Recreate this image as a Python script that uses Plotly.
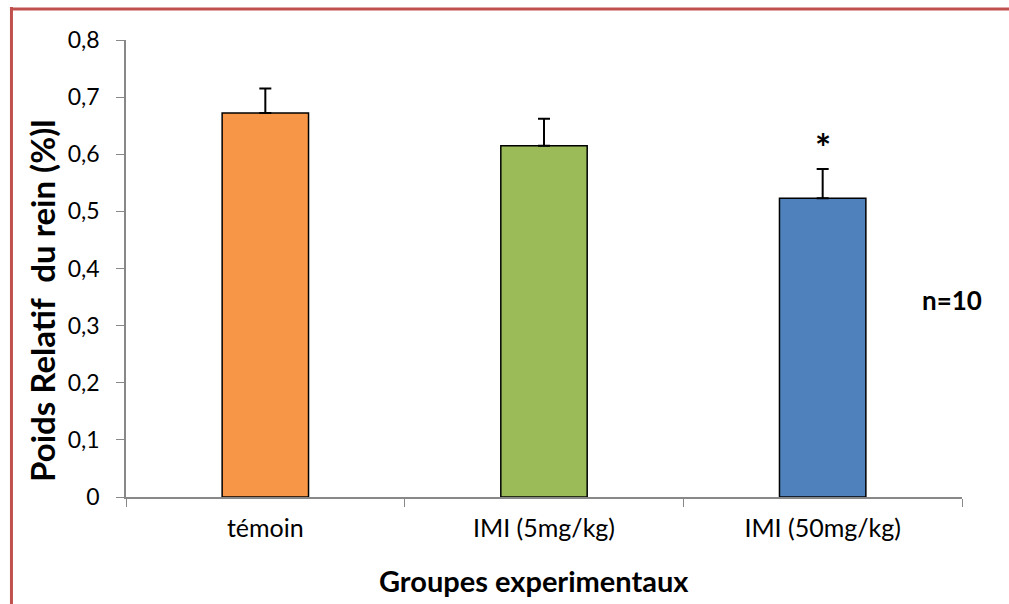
import plotly.graph_objects as go

categories = ["témoin", "IMI (5mg/kg)", "IMI (50mg/kg)"]
values = [0.672, 0.615, 0.523]
errors = [0.043, 0.047, 0.051]
colors = ["#F79646", "#9BBB59", "#4F81BD"]
y_ticks = [0, 0.1, 0.2, 0.3, 0.4, 0.5, 0.6, 0.7, 0.8]
y_tick_labels = ["0", "0,1", "0,2", "0,3", "0,4", "0,5", "0,6", "0,7", "0,8"]
x_title = "Groupes experimentaux"
y_title = "Poids Relatif\u00a0 du rein (%)l"

FONT = "Lato, 'Open Sans', sans-serif"

fig = go.Figure()
fig.add_trace(go.Bar(
    x=categories, y=values,
    marker=dict(color=colors, line=dict(color="black", width=1.5)),
    error_y=dict(type="data", array=errors, visible=True, color="black",
                 thickness=2, width=6, symmetric=False, arrayminus=[0, 0, 0]),
    width=0.31,
))

# significance asterisk
fig.add_annotation(x=categories[2], y=values[2] + errors[2], yshift=22,
                   text="<b>*</b>", showarrow=False,
                   font=dict(size=38, color="black", family=FONT))
# n=10
fig.add_annotation(xref="paper", yref="paper", x=0.988, y=0.43, xanchor="center",
                   text="<b>n=10</b>", showarrow=False,
                   font=dict(size=26, color="black", family=FONT))

# axis titles
fig.add_annotation(xref="paper", yref="paper", x=0.488, y=-0.182, xanchor="center",
                   yanchor="middle", text="<b>" + x_title + "</b>", showarrow=False,
                   font=dict(size=29, color="black", family=FONT))
fig.add_annotation(xref="paper", yref="paper", x=-0.1, y=0.43, xanchor="center",
                   yanchor="middle", textangle=-90, text="<b>" + y_title + "</b>",
                   showarrow=False, font=dict(size=33, color="black", family=FONT))

# frame (left and top borders)
fig.add_shape(type="line", xref="paper", yref="paper",
              x0=-0.137, x1=-0.137, y0=1.072, y1=-0.3,
              line=dict(color="#C0504D", width=3))
fig.add_shape(type="line", xref="paper", yref="paper",
              x0=-0.138, x1=1.1, y0=1.068, y1=1.068,
              line=dict(color="#C0504D", width=3))

fig.update_layout(
    width=1009, height=604,
    margin=dict(l=126, r=47, t=40, b=107),
    paper_bgcolor="white", plot_bgcolor="white",
    showlegend=False,
    font=dict(family=FONT, color="black"),
    xaxis=dict(
        showline=True, linecolor="#888888", linewidth=1.5,
        ticks="outside", tickson="boundaries", ticklen=8, tickcolor="#888888",
        tickfont=dict(size=25), showgrid=False, ticklabelstandoff=8,
        automargin=False,
    ),
    yaxis=dict(
        range=[0, 0.8], tickvals=y_ticks, ticktext=y_tick_labels,
        showline=True, linecolor="#888888", linewidth=1.5,
        ticks="outside", ticklen=8, tickcolor="#888888",
        tickfont=dict(size=23), showgrid=False, zeroline=False,
        ticklabelstandoff=12, automargin=False,
    ),
)

fig.write_html("out.html", config={"displayModeBar": False},
               post_script="document.body.style.margin='0px';")
